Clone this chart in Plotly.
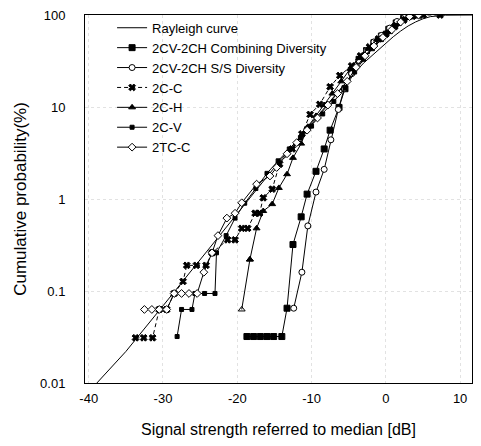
import plotly.graph_objects as go

# ---- data ----
ray_x = [-38.9, -35, -30, -25, -20, -15, -10, -7, -5, -3, -1, 0, 1, 2, 3, 4, 5, 6, 8, 11.6]
ray_y = [0.01, 0.022, 0.069, 0.22, 0.69, 2.2, 6.7, 13, 20, 30, 42, 50, 58, 67, 76, 84, 91, 96, 99.6, 100]

comb_x = [-18.7, -17.8, -16.9, -16.0, -15.1, -14.0, -13.3, -12.5, -11.4, -10.6, -9.4, -8.3, -7.5,
          -6.3, -5.5, -4.6, -3.6, -2.6, -1.6, -0.6, 0.4, 1.4, 2.4, 3.4, 4.4]
comb_y = [0.032, 0.032, 0.032, 0.032, 0.032, 0.032, 0.065, 0.32, 0.64, 1.13, 2.0, 3.5, 5.6,
          9.9, 15.8, 24, 33, 41, 50, 59, 70, 82, 92, 98, 100]

ss_x = [-12.4, -11.3, -10.5, -9.4, -8.3, -7.4, -6.4, -5.6, -4.6, -3.6, -2.6, -1.6, -0.6, 0.5, 1.5,
        2.5, 3.5, 4.6]
ss_y = [0.065, 0.16, 0.51, 1.19, 2.1, 4.4, 9.4, 15.8, 23, 32, 41, 51, 60, 72, 85, 94, 99, 100]

cc_x = [-33.7, -32.6, -31.4, -30.5, -29.5, -28.5, -27.3, -26.8, -25.5, -24.2, -23.4, -21.3, -20.3,
        -19.4, -18.6, -17.6, -17.0, -16.5, -15.3, -14.3, -12.6, -11.3, -10.2, -8.9, -7.5, -6.2,
        -4.6, -3.4, -2.2, -1.0, 0.0, 1.2, 2.4, 3.6, 5.0, 7.3]
cc_y = [0.031, 0.031, 0.031, 0.063, 0.063, 0.094, 0.127, 0.19, 0.19, 0.19, 0.26, 0.36, 0.36,
        0.48, 0.48, 0.70, 0.70, 1.03, 1.28, 2.4, 3.5, 5.1, 8.3, 10.7, 16.6, 22,
        28, 36, 45, 55, 62, 75, 88, 97, 100, 100]

ch_x = [-19.4, -18.3, -17.4, -16.5, -15.3, -14.4, -13.3, -12.5, -11.4, -10.5, -9.4, -8.3, -7.2,
        -6.0, -4.8, -3.6, -2.4, -1.2, 0.0, 1.2, 2.4, 3.6, 5.0]
ch_y = [0.063, 0.22, 0.48, 0.74, 0.88, 1.32, 1.86, 2.8, 4.0, 6.1, 8.0, 10.5, 14,
        19, 26, 34, 43, 54, 63, 77, 90, 98, 100]

cv_x = [-28.1, -27.5, -26.1, -25.7, -24.4, -23.0, -22.8, -21.5, -20.3, -19.0, -17.5, -16.0, -14.5,
        -13.0, -11.5, -10.0, -8.5, -7.0, -5.5, -4.2, -3.0, -1.8, -0.6, 0.6, 1.8, 3.0, 4.2]
cv_y = [0.032, 0.063, 0.063, 0.094, 0.094, 0.094, 0.26, 0.40, 0.62, 0.9, 1.3, 1.9, 2.6,
        3.5, 4.6, 6.2, 8.4, 11.5, 16, 24, 33, 43, 54, 66, 81, 94, 100]

tc_x = [-32.5, -31.5, -30.5, -29.5, -28.5, -27.5, -26.5, -25.4, -24.5, -23.4, -22.6, -21.4, -20.3,
        -19.4, -17.4, -15.6, -14.7, -13.3, -12.0, -10.6, -9.2, -7.8, -6.5, -5.2, -4.0, -2.8,
        -1.6, -0.4, 0.8, 2.0, 3.2, 4.4]
tc_y = [0.063, 0.063, 0.063, 0.063, 0.094, 0.094, 0.094, 0.094, 0.16, 0.26, 0.40, 0.62, 0.70,
        0.91, 1.45, 1.78, 2.2, 3.1, 4.1, 5.6, 7.6, 10.5, 14, 19, 27, 36,
        46, 57, 69, 84, 96, 100]

x_ticks = [-40, -30, -20, -10, 0, 10]
x_tick_text = ["-40", "-30", "-20", "-10", "0", "10"]
y_ticks = [0.01, 0.1, 1, 10, 100]
y_tick_text = ["0.01", "0.1", "1", "10", "100"]

names = ["Rayleigh curve", "2CV-2CH Combining Diversity", "2CV-2CH S/S Diversity",
         "2C-C", "2C-H", "2C-V", "2TC-C"]

K = "black"
fig = go.Figure()


def add(x, y, name, symbol=None, size=6, fill=K, dash="solid", showlegend=True, group=None):
    mode = "lines" if symbol is None else "lines+markers"
    marker = None
    if symbol is not None:
        marker = dict(symbol=symbol, size=size, color=fill, line=dict(color=K, width=1))
    fig.add_trace(go.Scatter(x=x, y=y, name=name, mode=mode, marker=marker,
                             line=dict(color=K, width=1, dash=dash),
                             showlegend=showlegend, legendgroup=group or name))


add(ray_x, ray_y, names[0])
add(comb_x, comb_y, names[1], "square", 6)
add(ss_x, ss_y, names[2], "circle", 6, fill="white")
add(cc_x, cc_y, names[3], "x", 6, dash="4px,3px")
add(ch_x[1:], ch_y[1:], names[4], "triangle-up", 6)
fig.add_trace(go.Scatter(x=ch_x[:2], y=ch_y[:2], mode="lines+markers", showlegend=False,
                         legendgroup=names[4],
                         marker=dict(symbol=["triangle-up-open", "triangle-up"], size=6,
                                     color=K, line=dict(color=K, width=1)),
                         line=dict(color=K, width=1)))
add(cv_x, cv_y, names[5], "square", 4)
add(tc_x, tc_y, names[6], "diamond", 6, fill="white")

# the page body adds an 8px margin, so the figure is sized to fit inside the window
fig.update_layout(
    width=473, height=438,
    margin=dict(l=77, r=9, t=5, b=63),
    paper_bgcolor="white", plot_bgcolor="white",
    font=dict(family="Liberation Sans, Arial, sans-serif", color="black", size=13),
    legend=dict(x=0.07, y=1.006, xanchor="left", yanchor="top", bgcolor="rgba(0,0,0,0)",
                font=dict(family="Liberation Sans, Arial", size=13),
                traceorder="grouped", tracegroupgap=0),
    xaxis=dict(range=[-40.5, 11.6], tickvals=x_ticks, ticktext=x_tick_text,
               showline=True, linecolor=K, linewidth=1, mirror=True,
               showgrid=True, gridcolor="#e2e2e2", griddash="dot", zeroline=False,
               ticks="", tickfont=dict(size=13), ticklabelstandoff=3, automargin=False,
               ticklabeloverflow="allow",
               title=dict(text="Signal strength referred to median [dB]", font=dict(size=16),
                          standoff=19)),
    yaxis=dict(type="log", range=[-2, 2], tickvals=y_ticks, ticktext=y_tick_text,
               showline=True, linecolor=K, linewidth=1, mirror=True,
               showgrid=True, gridcolor="#e2e2e2", griddash="dot", zeroline=False,
               ticks="", tickfont=dict(size=13), ticklabelstandoff=16, automargin=False,
               ticklabeloverflow="allow",
               title=dict(text="Cumulative probability(%)", font=dict(size=17), standoff=9)),
)

fig.write_html("out.html")
